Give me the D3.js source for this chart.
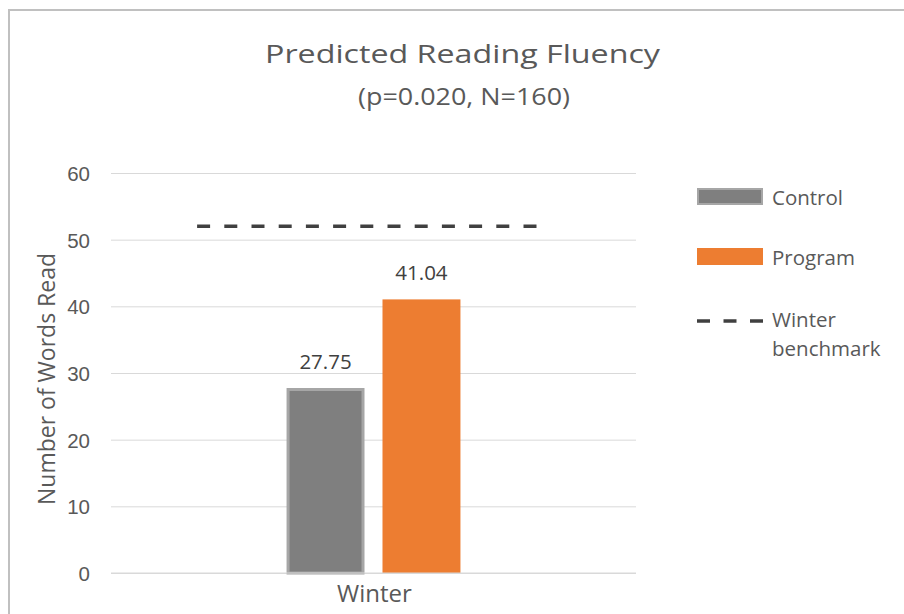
<!DOCTYPE html>
<html><head><meta charset="utf-8">
<script src="https://cdn.jsdelivr.net/npm/d3@7"></script>
<style>body{margin:0;background:#fff}svg{display:block;font-family:"Open Sans","Noto Sans",sans-serif}</style>
</head><body>
<script>
const categories = ["Winter"];
const seriesNames = ["Control", "Program"];
const seriesValues = [27.75, 41.04];
const seriesColors = ["#7f7f7f", "#ed7d31"];
const benchmarkLabel = ["Winter", "benchmark"];
const benchmarkValue = [52];
const yTicks = [0, 10, 20, 30, 40, 50, 60];

const W = 904, H = 614;
const svg = d3.select("body").append("svg").attr("width", W).attr("height", H);

// outer frame
svg.append("rect").attr("x", 9).attr("y", 10).attr("width", W + 10).attr("height", H + 10)
  .attr("fill", "#fff").attr("stroke", "#c0c0c0").attr("stroke-width", 2);

const plot = {left: 111, right: 636, top: 173, bottom: 573};
const y = d3.scaleLinear().domain([0, 60]).range([plot.bottom, plot.top]);
const x = d3.scaleBand().domain(categories).range([plot.left, plot.right]);
const xs = d3.scaleBand().domain(seriesNames).range([0, x.bandwidth()]).paddingInner(0.1875).paddingOuter(1.83);

// gridlines
const yAxis = d3.axisLeft(y).tickValues(yTicks).tickSize(-(plot.right - plot.left)).tickPadding(21);
const ga = svg.append("g").attr("transform", `translate(${plot.left},0)`).call(yAxis);
ga.select(".domain").remove();
ga.selectAll(".tick line").attr("stroke", "#d9d9d9").attr("stroke-width", 1);
ga.selectAll(".tick text").attr("fill", "#595959").style("font-size", "20.5px").attr("dy", "0.36em");

// bars
categories.forEach(c => {
  seriesNames.forEach((s, i) => {
    const v = seriesValues[i];
    const bx = x(c) + xs(s);
    const isControl = i === 0;
    svg.append("rect")
      .attr("x", bx + (isControl ? 1.5 : 0)).attr("y", y(v) + (isControl ? 1.5 : 0))
      .attr("width", xs.bandwidth() - (isControl ? 3 : 0))
      .attr("height", y(0) - y(v) - (isControl ? 1.5 : 0))
      .attr("fill", seriesColors[i])
      .attr("stroke", isControl ? "#a6a6a6" : "none").attr("stroke-width", 3);
    svg.append("text").attr("x", bx + xs.bandwidth() / 2).attr("y", y(v) - 19)
      .attr("text-anchor", "middle").attr("fill", "#404040").style("font-size", "20.5px")
      .text(v.toFixed(2));
  });
});

// baseline over bars
svg.append("line").attr("x1", plot.left).attr("x2", plot.right).attr("y1", y(0)).attr("y2", y(0))
  .attr("stroke", "#d9d9d9").attr("stroke-width", 1);

// benchmark dashed line
svg.append("line")
  .attr("x1", x("Winter") + x.bandwidth() * 0.164).attr("x2", x("Winter") + x.bandwidth() * 0.811)
  .attr("y1", y(benchmarkValue[0])).attr("y2", y(benchmarkValue[0]))
  .attr("stroke", "#404040").attr("stroke-width", 3.5).attr("stroke-dasharray", "13,14.2");

// x label
svg.append("text").attr("x", x("Winter") + x.bandwidth() / 2 + 1).attr("y", 602)
  .attr("text-anchor", "middle").attr("fill", "#595959").style("font-size", "24px").text(categories[0]);

// y title
svg.append("text").attr("transform", `translate(55,379) rotate(-90)`)
  .attr("text-anchor", "middle").attr("fill", "#595959").style("font-size", "23px").text("Number of Words Read");

// title
svg.append("text").attr("x", 462.5).attr("y", 63).attr("text-anchor", "middle").attr("fill", "#595959")
  .style("font-size", "26px").attr("textLength", 395).attr("lengthAdjust", "spacingAndGlyphs")
  .text("Predicted Reading Fluency");
svg.append("text").attr("x", 464).attr("y", 105).attr("text-anchor", "middle").attr("fill", "#595959")
  .style("font-size", "23.5px").attr("textLength", 212).attr("lengthAdjust", "spacingAndGlyphs")
  .text("(p=0.020, N=160)");

// legend
const lg = svg.append("g");
seriesNames.forEach((s, i) => {
  const yy = 188 + i * 60;
  lg.append("rect").attr("x", i === 0 ? 698 : 697).attr("y", i === 0 ? yy + 1 : yy)
    .attr("width", i === 0 ? 64 : 66).attr("height", i === 0 ? 15 : 17)
    .attr("fill", seriesColors[i]).attr("stroke", i === 0 ? "#a6a6a6" : "none").attr("stroke-width", 2);
  lg.append("text").attr("x", 772).attr("y", yy + 17).attr("fill", "#595959").style("font-size", "20.5px").text(s);
});
lg.append("line").attr("x1", 697).attr("x2", 763).attr("y1", 321).attr("y2", 321)
  .attr("stroke", "#404040").attr("stroke-width", 3.5).attr("stroke-dasharray", "13,13.5");
benchmarkLabel.forEach((t, i) => {
  lg.append("text").attr("x", 772).attr("y", 327 + i * 29).attr("fill", "#595959").style("font-size", "20.5px").text(t);
});
</script>
</body></html>
